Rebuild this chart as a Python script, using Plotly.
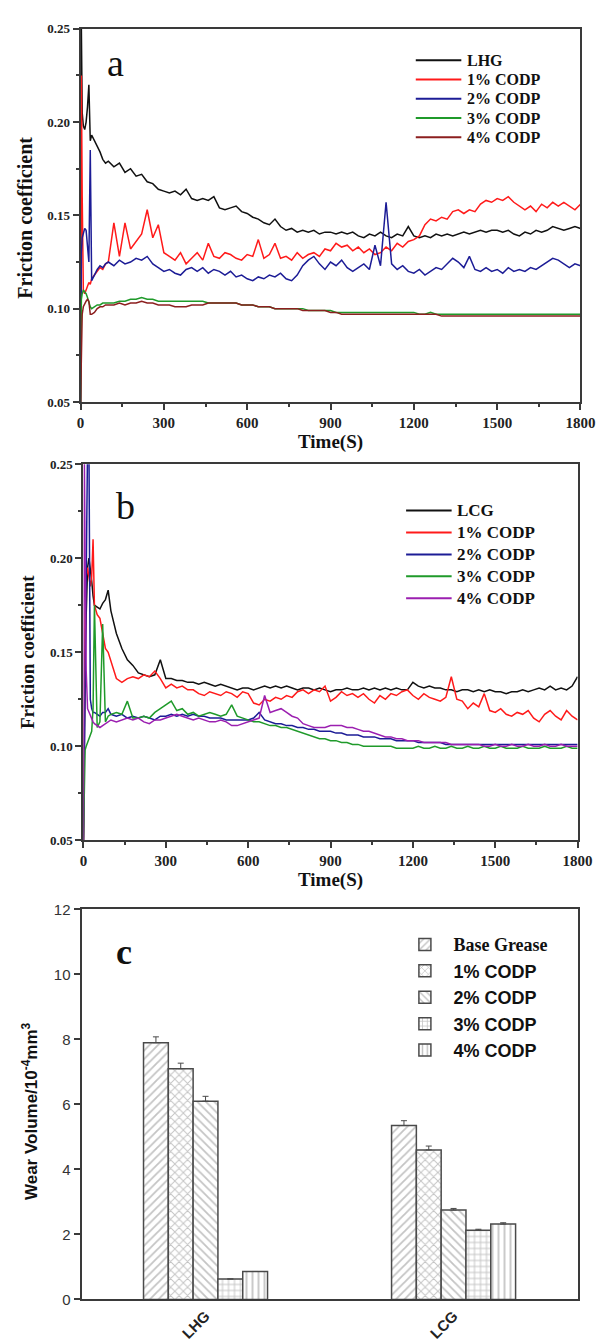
import plotly.graph_objects as go

W, H = 611, 1342


def px(x):
    return x / W


def py(y):
    return 1 - y / H


SERIF = "Liberation Serif"
SANS = "Liberation Sans"

# ---------------- time grid (s) ----------------
T_HEAD = [0, 3, 6, 10, 15, 20, 25, 30, 35, 40, 50, 60, 70, 80, 90, 100]
TIME = T_HEAD + list(range(120, 1801, 20))

# ---------------- panel a : LHG ----------------
LHG_A = [0.05, 0.25, 0.205, 0.198, 0.196, 0.200, 0.208, 0.220, 0.190, 0.193, 0.190, 0.187, 0.184, 0.180, 0.178, 0.179,
         0.176, 0.178, 0.173, 0.175, 0.171, 0.172, 0.168, 0.167, 0.164, 0.163,
         0.162, 0.163, 0.161, 0.164, 0.159, 0.158, 0.159, 0.158, 0.160, 0.154,
         0.153, 0.154, 0.155, 0.152, 0.151, 0.149, 0.148, 0.146, 0.145, 0.148,
         0.144, 0.142, 0.143, 0.141, 0.142, 0.141, 0.142, 0.140, 0.141, 0.141,
         0.140, 0.141, 0.140, 0.141, 0.139, 0.138, 0.140, 0.139, 0.141, 0.139,
         0.138, 0.140, 0.139, 0.144, 0.139, 0.138, 0.139, 0.138, 0.140, 0.139,
         0.140, 0.139, 0.140, 0.141, 0.140, 0.141, 0.142, 0.141, 0.142, 0.142,
         0.141, 0.142, 0.140, 0.139, 0.141, 0.140, 0.142, 0.141, 0.142, 0.144,
         0.143, 0.142, 0.143, 0.144, 0.143]
CODP1_A = [0.05, 0.225, 0.160, 0.110, 0.108, 0.110, 0.112, 0.114, 0.113, 0.116, 0.118, 0.120, 0.122, 0.121, 0.124, 0.125,
           0.146, 0.128, 0.146, 0.132, 0.136, 0.140, 0.153, 0.138, 0.145, 0.130,
           0.128, 0.126, 0.130, 0.124, 0.127, 0.130, 0.126, 0.135, 0.128, 0.127,
           0.130, 0.129, 0.127, 0.126, 0.129, 0.128, 0.137, 0.127, 0.129, 0.135,
           0.127, 0.128, 0.126, 0.130, 0.127, 0.129, 0.130, 0.128, 0.132, 0.131,
           0.135, 0.133, 0.134, 0.131, 0.133, 0.130, 0.132, 0.129, 0.130, 0.133,
           0.131, 0.135, 0.133, 0.136, 0.137, 0.139, 0.145, 0.148, 0.147, 0.149,
           0.148, 0.152, 0.153, 0.151, 0.153, 0.152, 0.156, 0.158, 0.157, 0.159,
           0.158, 0.160, 0.157, 0.155, 0.153, 0.155, 0.152, 0.156, 0.154, 0.157,
           0.155, 0.157, 0.155, 0.153, 0.156]
CODP2_A = [0.05, 0.130, 0.138, 0.140, 0.143, 0.142, 0.135, 0.125, 0.185, 0.115, 0.118, 0.121, 0.123, 0.122, 0.124, 0.125,
           0.123, 0.126, 0.124, 0.125, 0.127, 0.126, 0.128, 0.124, 0.122, 0.120,
           0.121, 0.119, 0.118, 0.121, 0.122, 0.120, 0.122, 0.119, 0.121, 0.120,
           0.118, 0.120, 0.117, 0.118, 0.116, 0.115, 0.117, 0.116, 0.118, 0.117,
           0.119, 0.116, 0.115, 0.118, 0.123, 0.126, 0.128, 0.124, 0.121, 0.125,
           0.123, 0.126, 0.122, 0.120, 0.122, 0.124, 0.121, 0.134, 0.123, 0.157,
           0.124, 0.121, 0.123, 0.120, 0.119, 0.121, 0.118, 0.120, 0.122, 0.121,
           0.124, 0.127, 0.125, 0.122, 0.128, 0.121, 0.120, 0.122, 0.120, 0.121,
           0.119, 0.122, 0.120, 0.121, 0.120, 0.122, 0.121, 0.123, 0.125, 0.127,
           0.126, 0.124, 0.122, 0.124, 0.123]
CODP3_A = [0.05, 0.105, 0.108, 0.110, 0.109, 0.108, 0.106, 0.103, 0.101, 0.100, 0.101, 0.102, 0.102, 0.103, 0.103, 0.103,
           0.103, 0.104, 0.104, 0.105, 0.105, 0.106, 0.105, 0.105, 0.104, 0.104,
           0.104, 0.104, 0.104, 0.104, 0.104, 0.104, 0.104, 0.103, 0.103, 0.103,
           0.103, 0.103, 0.103, 0.102, 0.102, 0.102, 0.101, 0.101, 0.101, 0.100,
           0.100, 0.100, 0.100, 0.100, 0.100, 0.099, 0.099, 0.099, 0.099, 0.099,
           0.098, 0.098, 0.098, 0.098, 0.098, 0.098, 0.098, 0.098, 0.098, 0.098,
           0.098, 0.098, 0.098, 0.098, 0.098, 0.097, 0.097, 0.098, 0.097, 0.097,
           0.097, 0.097, 0.097, 0.097, 0.097, 0.097, 0.097, 0.097, 0.097, 0.097,
           0.097, 0.097, 0.097, 0.097, 0.097, 0.097, 0.097, 0.097, 0.097, 0.097,
           0.097, 0.097, 0.097, 0.097, 0.097]
CODP4_A = [0.05, 0.092, 0.097, 0.101, 0.103, 0.104, 0.105, 0.104, 0.097, 0.097, 0.098, 0.100, 0.101, 0.101, 0.102, 0.102,
           0.102, 0.103, 0.102, 0.103, 0.103, 0.104, 0.103, 0.103, 0.102, 0.102,
           0.102, 0.101, 0.101, 0.101, 0.102, 0.102, 0.102, 0.103, 0.103, 0.103,
           0.103, 0.103, 0.103, 0.102, 0.102, 0.102, 0.101, 0.101, 0.101, 0.100,
           0.100, 0.100, 0.100, 0.100, 0.099, 0.099, 0.099, 0.099, 0.099, 0.098,
           0.098, 0.097, 0.097, 0.097, 0.097, 0.097, 0.097, 0.097, 0.097, 0.097,
           0.097, 0.097, 0.097, 0.097, 0.097, 0.097, 0.097, 0.097, 0.097, 0.096,
           0.096, 0.096, 0.096, 0.096, 0.096, 0.096, 0.096, 0.096, 0.096, 0.096,
           0.096, 0.096, 0.096, 0.096, 0.096, 0.096, 0.096, 0.096, 0.096, 0.096,
           0.096, 0.096, 0.096, 0.096, 0.096]

# ---------------- panel b : LCG ----------------
LCG_B = [0.05, 0.100, 0.140, 0.170, 0.195, 0.200, 0.195, 0.188, 0.180, 0.175, 0.174, 0.173, 0.176, 0.178, 0.183, 0.172,
         0.160, 0.152, 0.146, 0.143, 0.139, 0.138, 0.137, 0.138, 0.146, 0.136,
         0.136, 0.135, 0.135, 0.134, 0.134, 0.133, 0.134, 0.133, 0.132, 0.133,
         0.132, 0.131, 0.130, 0.131, 0.131, 0.130, 0.131, 0.132, 0.131, 0.132,
         0.131, 0.132, 0.131, 0.130, 0.131, 0.131, 0.130, 0.131, 0.130, 0.129,
         0.130, 0.130, 0.131, 0.130, 0.130, 0.131, 0.130, 0.131, 0.130, 0.131,
         0.130, 0.131, 0.130, 0.130, 0.134, 0.132, 0.131, 0.132, 0.131, 0.131,
         0.130, 0.130, 0.129, 0.130, 0.130, 0.129, 0.130, 0.129, 0.130, 0.129,
         0.129, 0.128, 0.129, 0.129, 0.130, 0.129, 0.130, 0.131, 0.130, 0.132,
         0.130, 0.131, 0.130, 0.132, 0.137]
CODP1_B = [0.05, 0.120, 0.170, 0.190, 0.195, 0.190, 0.185, 0.190, 0.210, 0.175, 0.170, 0.168, 0.160, 0.152, 0.150, 0.145,
           0.136, 0.134, 0.136, 0.137, 0.136, 0.138, 0.137, 0.140, 0.136, 0.131,
           0.133, 0.131, 0.132, 0.130, 0.130, 0.128, 0.127, 0.129, 0.128, 0.127,
           0.129, 0.128, 0.126, 0.129, 0.128, 0.123, 0.122, 0.125, 0.124, 0.126,
           0.125, 0.127, 0.126, 0.129, 0.130, 0.128, 0.130, 0.129, 0.132, 0.124,
           0.126, 0.129, 0.127, 0.128, 0.126, 0.128, 0.125, 0.123, 0.127, 0.125,
           0.128, 0.127, 0.129, 0.130, 0.127, 0.125, 0.128, 0.126, 0.125, 0.124,
           0.126, 0.137, 0.125, 0.124, 0.120, 0.123, 0.121, 0.128, 0.119, 0.118,
           0.120, 0.117, 0.116, 0.118, 0.117, 0.119, 0.115, 0.113, 0.117, 0.119,
           0.116, 0.114, 0.119, 0.116, 0.114]
CODP2_B = [0.05, 0.100, 0.150, 0.200, 0.260, 0.260, 0.125, 0.120, 0.118, 0.118, 0.117, 0.116, 0.118, 0.118, 0.120, 0.117,
           0.116, 0.117, 0.115, 0.116, 0.115, 0.116, 0.115, 0.114, 0.116, 0.116,
           0.117, 0.116, 0.117, 0.116, 0.117, 0.116, 0.116, 0.115, 0.115, 0.115,
           0.114, 0.114, 0.114, 0.114, 0.114, 0.115, 0.118, 0.114, 0.113, 0.112,
           0.112, 0.111, 0.111, 0.110, 0.110, 0.109, 0.109, 0.108, 0.108, 0.108,
           0.107, 0.107, 0.106, 0.106, 0.106, 0.105, 0.105, 0.105, 0.104, 0.104,
           0.104, 0.103, 0.103, 0.103, 0.103, 0.102, 0.102, 0.102, 0.102, 0.102,
           0.101, 0.101, 0.101, 0.101, 0.101, 0.101, 0.101, 0.101, 0.101, 0.101,
           0.101, 0.101, 0.101, 0.101, 0.101, 0.101, 0.101, 0.101, 0.101, 0.101,
           0.101, 0.101, 0.101, 0.101, 0.101]
CODP3_B = [0.05, 0.090, 0.098, 0.100, 0.102, 0.103, 0.105, 0.108, 0.120, 0.175, 0.110, 0.113, 0.165, 0.113, 0.116, 0.117,
           0.118, 0.117, 0.124, 0.115, 0.115, 0.116, 0.115, 0.118, 0.120, 0.122,
           0.124, 0.119, 0.120, 0.117, 0.118, 0.116, 0.117, 0.118, 0.117, 0.116,
           0.117, 0.122, 0.116, 0.115, 0.114, 0.113, 0.113, 0.112, 0.111, 0.111,
           0.110, 0.110, 0.109, 0.108, 0.107, 0.106, 0.105, 0.104, 0.104, 0.103,
           0.103, 0.102, 0.102, 0.101, 0.101, 0.100, 0.100, 0.100, 0.100, 0.100,
           0.100, 0.099, 0.099, 0.099, 0.099, 0.100, 0.099, 0.099, 0.100, 0.099,
           0.099, 0.100, 0.099, 0.099, 0.100, 0.099, 0.099, 0.100, 0.099, 0.099,
           0.100, 0.099, 0.099, 0.099, 0.100, 0.099, 0.099, 0.099, 0.100, 0.099,
           0.099, 0.099, 0.100, 0.099, 0.099]
CODP4_B = [0.05, 0.260, 0.200, 0.140, 0.120, 0.118, 0.116, 0.114, 0.113, 0.112, 0.111, 0.110, 0.111, 0.112, 0.113, 0.114,
           0.113, 0.114, 0.115, 0.114, 0.115, 0.113, 0.112, 0.114, 0.114, 0.115,
           0.116, 0.117, 0.116, 0.115, 0.114, 0.115, 0.114, 0.113, 0.113, 0.114,
           0.113, 0.111, 0.111, 0.112, 0.113, 0.114, 0.115, 0.127, 0.118, 0.119,
           0.120, 0.118, 0.116, 0.115, 0.112, 0.111, 0.110, 0.110, 0.110, 0.111,
           0.111, 0.111, 0.110, 0.110, 0.109, 0.108, 0.108, 0.107, 0.106, 0.105,
           0.105, 0.104, 0.104, 0.103, 0.103, 0.103, 0.102, 0.102, 0.102, 0.102,
           0.102, 0.101, 0.101, 0.101, 0.101, 0.101, 0.101, 0.100, 0.100, 0.101,
           0.100, 0.100, 0.101, 0.100, 0.100, 0.101, 0.100, 0.100, 0.101, 0.100,
           0.100, 0.101, 0.100, 0.100, 0.100]

# ---------------- panel c : wear volume ----------------
CATS = ["LHG", "LCG"]
BAR_NAMES = ["Base Grease", "1% CODP", "2% CODP", "3% CODP", "4% CODP"]
WEAR = [[7.90, 5.35], [7.10, 4.60], [6.10, 2.75], [0.63, 2.13], [0.86, 2.32]]
WEAR_ERR = [[0.18, 0.15], [0.17, 0.12], [0.15, 0.05], [0.0, 0.03], [0.0, 0.04]]
PATTERNS = ["/", "x", "\\", "+", "|"]

NAMES_A = ["LHG", "1% CODP", "2% CODP", "3% CODP", "4% CODP"]
COLORS_A = ["#111111", "#ff1a1a", "#1c1c96", "#1f9a2a", "#8c1f1f"]
NAMES_B = ["LCG", "1% CODP", "2% CODP", "3% CODP", "4% CODP"]
COLORS_B = ["#111111", "#ff1a1a", "#1c1c96", "#1f9a2a", "#9b1fb0"]

fig = go.Figure()

for nm, vals, col in zip(NAMES_A, [LHG_A, CODP1_A, CODP2_A, CODP3_A, CODP4_A], COLORS_A):
    fig.add_trace(go.Scatter(x=TIME, y=vals, mode="lines", name=nm, showlegend=False,
                             line=dict(color=col, width=1.5),
                             xaxis="x", yaxis="y"))

for nm, vals, col in zip(NAMES_B, [LCG_B, CODP1_B, CODP2_B, CODP3_B, CODP4_B], COLORS_B):
    fig.add_trace(go.Scatter(x=TIME, y=vals, mode="lines", name=nm, showlegend=False,
                             line=dict(color=col, width=1.5),
                             xaxis="x2", yaxis="y2"))

for i, nm in enumerate(BAR_NAMES):
    label = nm if i == 0 else f"<span style='font-family:{SANS}'>{nm}</span>"
    fig.add_trace(go.Bar(
        x=CATS, y=WEAR[i], name=label,
        marker=dict(color="white", line=dict(color="#4a4a4a", width=1.5),
                    pattern=dict(shape=PATTERNS[i], fgcolor="#8a8a8a", bgcolor="white",
                                 size=6, solidity=0.3)),
        error_y=dict(type="data", array=WEAR_ERR[i], arrayminus=[0, 0], symmetric=False,
                     color="#4a4a4a", thickness=1, width=3),
        xaxis="x3", yaxis="y3", legend="legend"))

AX = "#3a3a3a"


def line_x(dom, anchor):
    return dict(domain=dom, anchor=anchor, range=[0, 1800], tick0=0, dtick=300,
                showline=True, linecolor=AX, linewidth=2, mirror=True,
                ticks="outside", ticklen=6, tickwidth=1.5, tickcolor=AX,
                minor=dict(ticks="outside", ticklen=3, tickcolor=AX, dtick=150, tick0=0),
                showgrid=False, zeroline=False,
                tickfont=dict(family=SERIF, size=15, color="#222", weight="bold"))


def line_y(dom, anchor):
    return dict(domain=dom, anchor=anchor, range=[0.05, 0.25], tick0=0.05, dtick=0.05,
                tickformat=".2f",
                showline=True, linecolor=AX, linewidth=2, mirror=True,
                ticks="outside", ticklen=6, tickwidth=1.5, tickcolor=AX,
                minor=dict(ticks="outside", ticklen=3, tickcolor=AX, dtick=0.025, tick0=0.05),
                showgrid=False, zeroline=False,
                tickfont=dict(family=SERIF, size=13, color="#222", weight="bold"))


fig.update_layout(
    width=W, height=H, margin=dict(l=0, r=0, t=0, b=0),
    paper_bgcolor="white", plot_bgcolor="white",
    barmode="group", bargap=0.5, bargroupgap=0,
    xaxis=line_x([px(79), px(595)], "y"),
    yaxis=line_y([py(398), py(20)], "x"),
    xaxis2=line_x([px(82), px(592)], "y2"),
    yaxis2=line_y([py(842), py(461)], "x2"),
    xaxis3=dict(domain=[px(80), px(592)], anchor="y3", type="category", range=[-0.5, 1.5],
                showline=True, linecolor=AX, linewidth=2, mirror=True, ticks="",
                tickangle=-45, showgrid=False, zeroline=False,
                tickfont=dict(family=SANS, size=15, color="#222", weight="bold")),
    yaxis3=dict(domain=[py(1307), py(912)], anchor="x3", range=[0, 12], dtick=2,
                showline=True, linecolor=AX, linewidth=2, mirror=True,
                ticks="outside", ticklen=6, tickwidth=1.5, tickcolor=AX,
                showgrid=False, zeroline=False,
                tickfont=dict(family=SANS, size=15, color="#333")),
    legend=dict(x=px(405), y=py(929), xanchor="left", yanchor="top",
                bgcolor="rgba(0,0,0,0)", itemwidth=47, tracegroupgap=0,
                font=dict(family=SERIF, size=18, color="#111", weight="bold")),
    showlegend=True,
)

# legends of the two friction panels (line samples + labels)
shapes = []
ann = []
LEG_A = dict(x0=425, x1=472, xt=477, y0=52, dy=19.5, size=16)
LEG_B = dict(x0=415, x1=462, xt=467, y0=508, dy=22.2, size=17)
for leg, names, cols in [(LEG_A, NAMES_A, COLORS_A), (LEG_B, NAMES_B, COLORS_B)]:
    for i, (nm, col) in enumerate(zip(names, cols)):
        yy = leg["y0"] + leg["dy"] * i
        shapes.append(dict(type="line", xref="paper", yref="paper",
                           x0=px(leg["x0"]), x1=px(leg["x1"]), y0=py(yy), y1=py(yy),
                           line=dict(color=col, width=2)))
        ann.append(dict(text=nm, x=px(leg["xt"]), y=py(yy), xanchor="left", yanchor="middle",
                        borderpad=0,
                        font=dict(family=SERIF, size=leg["size"], color="#111", weight="bold")))

ann += [
    dict(text="a", x=px(115), y=py(55), font=dict(family=SERIF, size=38, color="#111")),
    dict(text="b", x=px(125), y=py(503), font=dict(family=SERIF, size=38, color="#111")),
    dict(text="c", x=px(124), y=py(955), font=dict(family=SERIF, size=36, color="#111", weight="bold")),
    dict(text="Friction coefficient", x=px(22), y=py(211), textangle=-90,
         font=dict(family=SERIF, size=20, color="#111", weight="bold")),
    dict(text="Friction coefficient", x=px(24), y=py(651), textangle=-90,
         font=dict(family=SERIF, size=19, color="#111", weight="bold")),
    dict(text="Time(S)", x=px(337), y=py(439),
         font=dict(family=SERIF, size=19, color="#111", weight="bold")),
    dict(text="Time(S)", x=px(337), y=py(882),
         font=dict(family=SERIF, size=19, color="#111", weight="bold")),
    dict(text="Wear Volume/10<sup>-4</sup>mm<sup>3</sup>", x=px(27), y=py(1116), textangle=-90,
         font=dict(family=SANS, size=17, color="#111", weight="bold")),
]
for a in ann:
    a.setdefault("xanchor", "center")
    a.setdefault("yanchor", "middle")
    a.update(xref="paper", yref="paper", showarrow=False)
fig.update_layout(annotations=ann, shapes=shapes)

fig.write_html("out.html")
